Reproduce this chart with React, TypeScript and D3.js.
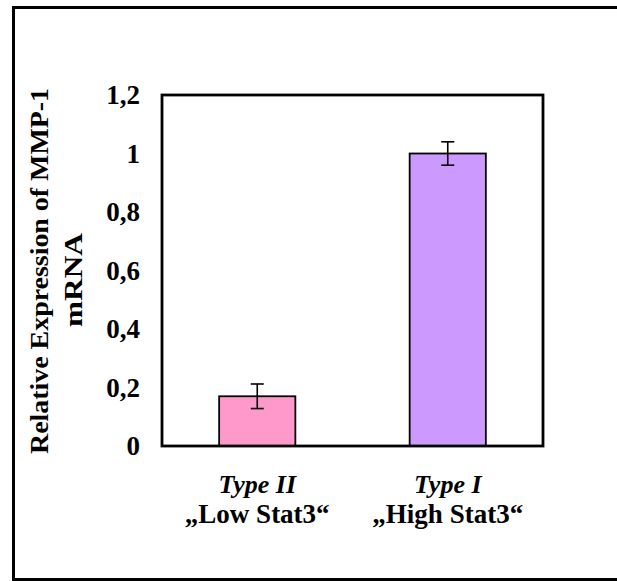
import { useEffect, useMemo } from "react";
import * as d3 from "d3";

const categories = ["Type II", "Type I"];
const subLabels = ["„Low Stat3“", "„High Stat3“"];
const values = [0.17, 1.0];
const errors = [0.042, 0.04];
const barColors = ["#FF99CC", "#CC99FF"];
const yTicks = [0, 0.2, 0.4, 0.6, 0.8, 1, 1.2];

const FONT = "'Liberation Serif', 'Times New Roman', serif";

export default function App() {
  const width = 617;
  const height = 581;
  const plot = { left: 162, right: 543, top: 95, bottom: 446 };

  useEffect(() => {
    document.body.style.margin = "0";
    document.documentElement.style.overflow = "hidden";
  }, []);

  const x = useMemo(
    () =>
      d3.scaleBand<string>()
        .domain(categories)
        .range([plot.left, plot.right])
        .paddingInner(0.6)
        .paddingOuter(0.3),
    // eslint-disable-next-line react-hooks/exhaustive-deps
    []
  );
  const y = useMemo(
    () => d3.scaleLinear().domain([0, 1.2]).range([plot.bottom, plot.top]),
    // eslint-disable-next-line react-hooks/exhaustive-deps
    []
  );

  const fmt = (v: number) => String(+v.toFixed(1)).replace(".", ",");

  return (
    <svg
      width={width}
      height={height}
      style={{ position: "absolute", left: 0, top: 0, background: "white", display: "block" }}
      fontFamily={FONT}
    >
      {/* outer frame: left, top and bottom only, the right side is cut off */}
      <path
        d={`M${width} 7.5 H13.5 V579.5 H${width}`}
        fill="none"
        stroke="#000"
        strokeWidth={3}
      />

      {/* bars */}
      {categories.map((c, i) => (
        <rect
          key={c}
          x={x(c)}
          y={y(values[i])}
          width={x.bandwidth()}
          height={y(0) - y(values[i])}
          fill={barColors[i]}
          stroke="#000"
          strokeWidth={1.8}
        />
      ))}

      {/* error bars */}
      {categories.map((c, i) => {
        const cx = (x(c) ?? 0) + x.bandwidth() / 2;
        return (
          <g key={c} stroke="#000" strokeWidth={1.6}>
            <line x1={cx} x2={cx} y1={y(values[i] + errors[i])} y2={y(values[i] - errors[i])} />
            <line x1={cx - 6.5} x2={cx + 6.5} y1={y(values[i] + errors[i])} y2={y(values[i] + errors[i])} />
            <line x1={cx - 6.5} x2={cx + 6.5} y1={y(values[i] - errors[i])} y2={y(values[i] - errors[i])} />
          </g>
        );
      })}

      {/* plot frame */}
      <rect
        x={plot.left}
        y={plot.top}
        width={plot.right - plot.left}
        height={plot.bottom - plot.top}
        fill="none"
        stroke="#000"
        strokeWidth={2.8}
      />

      {/* y tick labels */}
      {yTicks.map((t) => (
        <text
          key={t}
          x={140}
          y={y(t)}
          dy="0.35em"
          textAnchor="end"
          fontSize={27}
          fontWeight="bold"
        >
          {fmt(t)}
        </text>
      ))}

      {/* y axis title */}
      <g transform="translate(39, 271) rotate(-90)">
        <text
          textAnchor="middle"
          dy="0.35em"
          fontSize={26}
          fontWeight="bold"
          textLength={366}
          lengthAdjust="spacingAndGlyphs"
        >
          Relative Expression of MMP-1
        </text>
        <text
          textAnchor="middle"
          x={-9}
          y={34}
          dy="0.35em"
          fontSize={26}
          fontWeight="bold"
          textLength={94}
          lengthAdjust="spacingAndGlyphs"
        >
          mRNA
        </text>
      </g>

      {/* x labels */}
      {categories.map((c, i) => {
        const cx = (x(c) ?? 0) + x.bandwidth() / 2;
        return (
          <g key={c}>
            <text x={cx} y={493} textAnchor="middle" fontSize={26} fontWeight="bold" fontStyle="italic">
              {c}
            </text>
            <text x={cx} y={523} textAnchor="middle" fontSize={27} fontWeight="bold">
              {subLabels[i]}
            </text>
          </g>
        );
      })}
    </svg>
  );
}
